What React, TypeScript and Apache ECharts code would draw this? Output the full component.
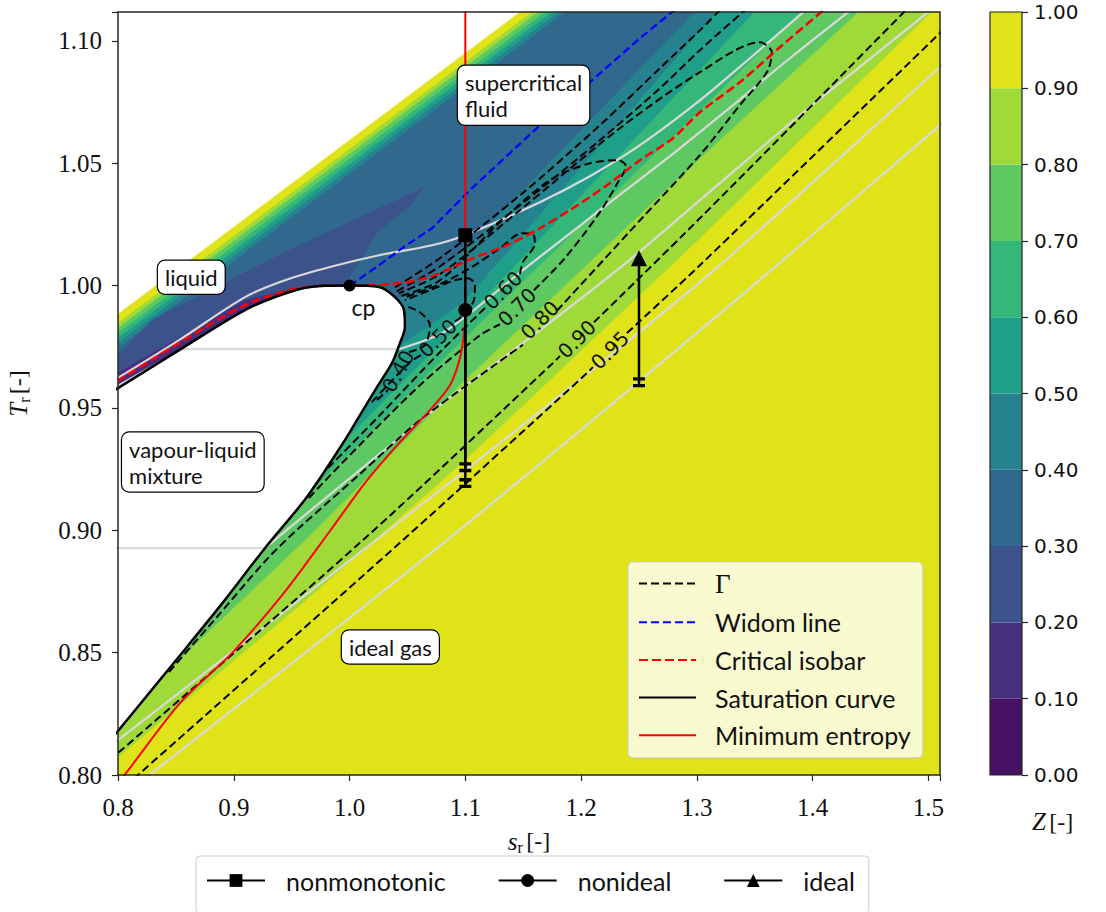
import React, { useEffect, useRef } from "react";
import * as echarts from "echarts";

// ---------------- data (reduced entropy s_r, reduced temperature T_r) ----------------
const zLevels = [0, 0.1, 0.2, 0.3, 0.4, 0.5, 0.6, 0.7, 0.8, 0.9, 1.0];
const bandColors = ["#471164", "#472f7d", "#3b528b", "#31688e", "#26828e", "#1f9e89", "#35b779", "#5ec962", "#a0da39", "#dfe318"];

// filled regions: Z >= 0.9 domain, then regions Z < level
const zDomain = [[0.78, 0.9812], [1.2, 1.1305], [1.2, 1.15], [1.6, 1.15], [1.6, 0.78], [0.78, 0.78]];
const zBelow90 = [[0.78, 0.9775], [1.2, 1.1268], [1.2, 1.15], [1.5142, 1.15], [1.5142, 1.1186], [1.5012, 1.1113], [1.3026, 1.0194], [1.0997, 0.9287], [0.9572, 0.8694], [0.8, 0.8074], [0.7845, 0.8012], [0.78, 0.8]];
const zBelow80 = [[0.78, 0.9755], [1.2, 1.1248], [1.2, 1.15], [1.4494, 1.15], [1.4494, 1.1186], [1.4382, 1.1113], [1.2681, 1.0369], [1.0997, 0.9614], [0.9658, 0.898], [0.8449, 0.8437], [0.8, 0.85], [0.78, 0.85]];
const zBelow70 = [[0.78, 0.9734], [1.2, 1.1227], [1.2, 1.15], [1.4019, 1.15], [1.4019, 1.1186], [1.389, 1.1113], [1.0997, 0.9789], [0.9442, 0.9054], [0.9, 0.9], [0.78, 0.9]];
const zBelow60 = [[0.78, 0.9714], [1.2, 1.1207], [1.2, 1.15], [1.3587, 1.15], [1.3587, 1.1186], [1.3484, 1.1113], [1.0997, 0.9867], [0.996, 0.9369], [0.95, 0.93], [0.78, 0.92]];
const zBelow50 = [[0.78, 0.9694], [1.2, 1.1186], [1.2, 1.15], [1.3259, 1.15], [1.3259, 1.1186], [1.3155, 1.1113], [1.0997, 0.994], [1.0444, 0.9757], [1.0, 0.96], [0.78, 0.92]];
const zBelow40 = [[0.78, 0.9673], [1.2, 1.1166], [1.2, 1.15], [1.3069, 1.15], [1.3069, 1.1186], [1.2966, 1.1113], [1.0997, 1.0145], [1.0418, 0.9949], [1.0, 0.97], [0.78, 0.93]];
const zBelow30 = [[0.78, 0.9645], [0.8, 0.9716], [0.83, 0.986], [0.95, 1.015], [1.0634, 1.0398], [1.0522, 1.0328], [1.0237, 1.0217], [1.009, 1.0106], [0.996, 1.0006], [0.97, 0.985], [0.78, 0.93]];
const zBelow20 = [[0.78, 0.9589], [0.8009, 0.9646], [0.8527, 0.9785], [0.9097, 0.994], [0.9477, 0.9981], [0.93, 0.97], [0.78, 0.94]];

// saturation curve (liquid branch -> critical point -> vapour branch)
const saturation = [[0.78, 0.9522], [0.8, 0.9581], [0.8527, 0.9736], [0.9097, 0.99], [0.9477, 0.9973], [0.9736, 0.9998], [1.0, 1.0], [1.0254, 0.9994], [1.0392, 0.9953], [1.047, 0.99], [1.0478, 0.983], [1.0435, 0.9765], [1.0366, 0.9683], [1.0237, 0.9585], [1.009, 0.9471], [0.9943, 0.9356], [0.9632, 0.9136], [0.9269, 0.8927], [0.8881, 0.869], [0.851, 0.8474], [0.8, 0.818], [0.78, 0.8065]];

// isobars (grey)
const isobar1 = [[0.8147, 0.7955], [0.825, 0.7992], [1.0841, 0.896], [1.3285, 0.992], [1.5098, 1.0655], [1.5271, 1.0725]];
const isobar2 = [[0.7801, 0.8069], [0.8, 0.8143], [1.0781, 0.9164], [1.3026, 1.0014], [1.5098, 1.0892], [1.5271, 1.0962]];
const isobar3Flat = [[0.7801, 0.8927], [0.9269, 0.8927]];
const isobar3Vap = [[0.9269, 0.8927], [0.9572, 0.9046], [1.0003, 0.9213], [1.0781, 0.9511], [1.1644, 0.9818], [1.2396, 1.0096], [1.3026, 1.0349], [1.3889, 1.0696], [1.4986, 1.1113], [1.5098, 1.1158]];
const isobar4Liq = [[0.7801, 0.954], [0.8009, 0.9593], [0.8553, 0.974]];
const isobar4Flat = [[0.8553, 0.974], [1.0427, 0.974]];
const isobar4Vap = [[1.0427, 0.974], [1.0781, 0.9801], [1.0997, 0.9871], [1.1497, 1.0063], [1.2162, 1.0308], [1.2853, 1.0561], [1.3311, 1.0737], [1.3803, 1.0929], [1.4295, 1.1113], [1.4408, 1.1154]];
const isobar5 = [[0.7801, 0.9573], [0.8009, 0.9626], [0.8527, 0.9777], [0.9097, 0.9953], [0.9442, 1.0022], [0.9822, 1.0075], [1.0254, 1.0124], [1.0712, 1.0165], [1.0997, 1.0206], [1.1644, 1.0341], [1.2076, 1.0447], [1.2508, 1.0574], [1.3026, 1.0757], [1.3458, 1.0929], [1.3889, 1.1105], [1.3976, 1.1145]];

const criticalIsobar = [[0.7801, 0.9556], [0.8009, 0.9614], [0.8527, 0.9765], [0.9097, 0.992], [0.9477, 0.9981], [0.9744, 0.9998], [1.0, 1.0], [1.0349, 1.0006], [1.0686, 1.0034], [1.1066, 1.0112], [1.1359, 1.0165], [1.1644, 1.0234], [1.1929, 1.0316], [1.2223, 1.041], [1.2508, 1.0512], [1.2793, 1.0602], [1.3026, 1.0708], [1.3371, 1.0831], [1.3717, 1.0974], [1.4062, 1.1113], [1.4149, 1.1149]];
const widomLine = [[1.0, 1.0], [1.0219, 1.0071], [1.0478, 1.0161], [1.0712, 1.0234], [1.104, 1.039], [1.1644, 1.0655], [1.2076, 1.0831], [1.2508, 1.1011], [1.2784, 1.1117], [1.2853, 1.1146]];
const minEntropy = [[1.1, 1.13], [1.1, 0.99], [1.0992, 0.9818], [1.0953, 0.9703], [1.0867, 0.9593], [1.0694, 0.9491], [1.0435, 0.936], [1.0133, 0.9193], [0.9831, 0.8997], [0.9425, 0.8739], [0.8984, 0.8498], [0.8535, 0.8294], [0.8043, 0.7992], [0.79, 0.7918]];

// fundamental derivative contours (Gamma), split where the inline labels sit
const gamma95LowA = [[0.806, 0.7951], [0.8173, 0.8], [1.0461, 0.896], [1.205, 0.9642], [1.2102, 0.9667]];
const gamma95LowB = [[1.2396, 0.9806], [1.3026, 1.0083], [1.5098, 1.1031], [1.5185, 1.1068]];
const gamma95Up = [[1.0392, 0.9993], [1.0781, 1.0112], [1.1472, 1.0369], [1.2162, 1.0655], [1.268, 1.0888], [1.3026, 1.1043], [1.3199, 1.1125]];
const gamma90LowA = [[0.7845, 0.8029], [0.8, 0.809], [1.0116, 0.896], [1.1756, 0.9683], [1.1817, 0.9712]];
const gamma90LowB = [[1.2111, 0.985], [1.3026, 1.0275], [1.4779, 1.1113], [1.4839, 1.1145]];
const gamma90Up = [[1.0409, 0.9977], [1.0781, 1.0079], [1.1472, 1.0328], [1.2162, 1.0594], [1.268, 1.0806], [1.3026, 1.0962], [1.3415, 1.1125]];
const gamma80A = [[0.844, 0.8421], [0.8846, 0.8641], [0.9295, 0.8886], [0.9572, 0.9013], [1.009, 0.923], [1.0608, 0.945], [1.1497, 0.9758]];
const gamma80B = [[1.1791, 0.9897], [1.2525, 1.0275], [1.3026, 1.0533], [1.3371, 1.0737], [1.3604, 1.0872], [1.3648, 1.0953], [1.3544, 1.0994], [1.3026, 1.0872], [1.2335, 1.0643], [1.1472, 1.0308], [1.0781, 1.0047], [1.0427, 0.9969]];
const gamma70A = [[0.9649, 0.9132], [0.9917, 0.9266], [1.0608, 0.9593], [1.1126, 0.9797], [1.1299, 0.9842]];
const gamma70B = [[1.1592, 0.9981], [1.186, 1.0112], [1.2162, 1.03], [1.2318, 1.0422], [1.2387, 1.0488], [1.2318, 1.0512], [1.2076, 1.05], [1.1731, 1.0431], [1.1299, 1.0259], [1.0781, 1.0022], [1.0444, 0.9957]];
const gamma60A = [[0.9813, 0.9254], [1.0263, 0.9471], [1.0781, 0.9728], [1.1178, 0.9912]];
const gamma60B = [[1.1472, 1.0047], [1.1497, 1.0096], [1.1601, 1.0173], [1.1584, 1.021], [1.1489, 1.0214], [1.1299, 1.0153], [1.104, 1.0071], [1.0781, 1.0006], [1.0461, 0.9949]];
const gamma50A = [[1.0193, 0.9524], [1.0522, 0.9687], [1.0617, 0.9716]];
const gamma50B = [[1.091, 0.9855], [1.0953, 0.9867], [1.1074, 0.994], [1.1083, 1.0002], [1.1022, 1.003], [1.091, 1.0022], [1.0694, 0.9981], [1.0478, 0.994]];
const gamma40A = [[1.0237, 0.9532], [1.0332, 0.9573]];
const gamma40B = [[1.0513, 0.9728], [1.0651, 0.9757], [1.0694, 0.9838], [1.0608, 0.9891], [1.0487, 0.9916]];
const gammaLabelText = ["0.40", "0.50", "0.60", "0.70", "0.80", "0.90", "0.95"];
const gammaLabelPos = [[1.042, 0.965], [1.0763, 0.9785], [1.1325, 0.9981], [1.1446, 0.9912], [1.1644, 0.9859], [1.1964, 0.9781], [1.2249, 0.9736]];
const gammaLabelAngle = [61, 45, 45, 45, 45, 45, 45];

// expansions
const nonmonotonicPath = [[1.1, 1.0206], [1.1, 0.9193]];
const nonidealPath = [[1.1, 0.99], [1.1, 0.9258]];
const idealPath = [[1.25, 1.0112], [1.25, 0.9605]];
const criticalPoint = [1.0, 1.0];

// region annotations
const regionNames = ["liquid", "supercritical\nfluid", "vapour-liquid\nmixture", "ideal gas"];
const regionAnchors = [[0.8345, 1.0034], [1.0936, 1.0778], [0.8035, 0.9279], [0.9934, 0.8523]];

const xTickStep = 0.1;
const yTickStep = 0.05;

// ---------------- chart ----------------
const serif = "Liberation Serif";
const sans = "Lato";
const cbFont = "DejaVu Sans";
const frame = "#262626";

function isTick(v: number, step: number) {
  return Math.abs(v / step - Math.round(v / step)) < 1e-6;
}

function polygon(name: string, pts: number[][], color: string) {
  return {
    type: "custom",
    name,
    silent: true,
    clip: true,
    z: 1,
    data: pts,
    renderItem: (params: any, api: any) => {
      if (params.dataIndex !== 0) return null;
      return {
        type: "polygon",
        shape: { points: pts.map((p) => api.coord(p)) },
        style: { fill: color, stroke: color, lineWidth: 0.6 },
      };
    },
  };
}

function line(name: string, pts: number[][], color: string, width: number, type: any, z: number, smooth: number = 0) {
  return {
    type: "line",
    name,
    data: pts,
    symbol: "none",
    showSymbol: false,
    smooth,
    clip: true,
    silent: true,
    z,
    lineStyle: { color, width, type },
    itemStyle: { color },
  };
}

const capSymbol = "path://M0,0 L4,0 L4,3 L6,3 L6,0 L10,0 L10,3 L6,3 L6,6 L10,6 L10,9 L0,9 L0,6 L4,6 L4,3 L0,3 Z";

function process(name: string, pts: number[][], symbol: string, size: number) {
  return {
    type: "line",
    name,
    data: [
      { value: pts[0], symbol, symbolSize: size },
      { value: pts[1], symbol: capSymbol, symbolSize: [12, 10] },
    ],
    symbol,
    symbolSize: size,
    showSymbol: true,
    clip: false,
    silent: true,
    z: 6,
    lineStyle: { color: "#000", width: 2.5 },
    itemStyle: { color: "#000" },
  };
}

function buildOption() {
  const bands = [
    polygon("b9", zDomain, bandColors[9]),
    polygon("b8", zBelow90, bandColors[8]),
    polygon("b7", zBelow80, bandColors[7]),
    polygon("b6", zBelow70, bandColors[6]),
    polygon("b5", zBelow60, bandColors[5]),
    polygon("b4", zBelow50, bandColors[4]),
    polygon("b3", zBelow40, bandColors[3]),
    polygon("b2", zBelow30, bandColors[2]),
    polygon("b1", zBelow20, bandColors[1]),
    polygon("dome", saturation, "#ffffff"),
  ];
  const grey = "#d9d9d9";
  const isobars = [isobar1, isobar2, isobar3Vap, isobar4Liq, isobar4Vap, isobar5].map((p, i) => line("isobar" + i, p, grey, 2.2, "solid", 2, 0.3));
  const flats = [isobar3Flat, isobar4Flat].map((p, i) => line("flat" + i, p, grey, 2.2, "solid", 2, 0));
  const dash: any = [8, 4];
  const gammas = [
    gamma95LowA, gamma95LowB, gamma95Up, gamma90LowA, gamma90LowB, gamma90Up,
    gamma80A, gamma80B, gamma70A, gamma70B, gamma60A, gamma60B, gamma50A, gamma50B, gamma40A, gamma40B,
  ].map((p) => line("Γ", p, "#000", 2, dash, 3, 0.3));
  const colorbar = bandColors.map((c, i) => ({
    type: "bar",
    name: "cb" + i,
    xAxisIndex: 1,
    yAxisIndex: 1,
    stack: "cb",
    barWidth: "100%",
    silent: true,
    data: [zLevels[i + 1] - zLevels[i]],
    itemStyle: { color: c },
  }));

  const axisRich = {
    i: { fontFamily: serif, fontStyle: "italic", fontSize: 25, color: "#111" },
    s: { fontFamily: serif, fontSize: 16, color: "#111", verticalAlign: "bottom", padding: [12, 0, 0, 0] },
    n: { fontFamily: serif, fontSize: 24, color: "#111" },
  };

  return {
    animation: false,
    backgroundColor: "#ffffff",
    grid: [
      { left: 118, top: 12, width: 822, height: 763, show: true, borderColor: frame, borderWidth: 1.5, backgroundColor: "transparent", z: 10, outerBoundsMode: "none", containLabel: false },
      { left: 990, top: 12, width: 32, height: 763, show: true, borderColor: frame, borderWidth: 1.2, backgroundColor: "transparent", z: 10, outerBoundsMode: "none", containLabel: false },
    ],
    xAxis: [
      {
        type: "value",
        gridIndex: 0,
        min: 0.8,
        max: 1.51,
        interval: xTickStep,
        axisLine: { show: false },
        axisTick: { show: true, length: 6, lineStyle: { color: frame, width: 1.2 } },
        axisLabel: { formatter: (v: number) => (isTick(v, xTickStep) ? v.toFixed(1) : ""), fontFamily: serif, fontSize: 25, color: "#111", margin: 20 },
        splitLine: { show: false },
        name: "{i|s}{s|r} {n|[-]}",
        nameLocation: "middle",
        nameGap: 52,
        nameTextStyle: { rich: axisRich },
      },
      { type: "category", gridIndex: 1, data: ["Z"], show: false },
    ],
    yAxis: [
      {
        type: "value",
        gridIndex: 0,
        min: 0.8,
        max: 1.1118,
        interval: yTickStep,
        axisLine: { show: false },
        axisTick: { show: true, length: 6, lineStyle: { color: frame, width: 1.2 } },
        axisLabel: { formatter: (v: number) => (isTick(v, yTickStep) ? v.toFixed(2) : ""), fontFamily: serif, fontSize: 25, color: "#111", margin: 16 },
        splitLine: { show: false },
        name: "{i|T}{s|r} {n|[-]}",
        nameLocation: "middle",
        nameRotate: 90,
        nameGap: 86,
        nameTextStyle: { rich: axisRich },
      },
      {
        type: "value",
        gridIndex: 1,
        position: "right",
        min: 0,
        max: 1,
        interval: 0.1,
        axisLine: { show: false },
        axisTick: { show: true, length: 6, lineStyle: { color: frame, width: 1.2 } },
        axisLabel: { formatter: (v: number) => v.toFixed(2), fontFamily: cbFont, fontSize: 20, color: "#111", margin: 12 },
        splitLine: { show: false },
        name: "{i|Z} {n|[-]}",
        nameLocation: "start",
        nameGap: 34,
        nameTextStyle: {
          align: "left",
          padding: [0, 0, 0, 10],
          rich: {
            i: { fontFamily: serif, fontStyle: "italic", fontSize: 25, color: "#111" },
            n: { fontFamily: serif, fontSize: 24, color: "#111" },
          },
        },
      },
    ],
    legend: [
      {
        data: ["Γ", "Widom line", "Critical isobar", "Saturation curve", "Minimum entropy"],
        orient: "vertical",
        left: 628,
        top: 562,
        itemWidth: 57,
        itemHeight: 14,
        itemGap: 12.7,
        padding: [8, 12, 10, 10],
        backgroundColor: "rgba(255,255,255,0.8)",
        borderColor: "#cccccc",
        borderWidth: 1,
        borderRadius: 5,
        z: 20,
        selectedMode: false,
        itemStyle: { opacity: 0 },
        formatter: (n: string) => (n === "Γ" ? "{g|Γ}" : n),
        textStyle: {
          fontFamily: sans,
          fontSize: 25,
          color: "#111",
          padding: [0, 0, 0, 14],
          rich: { g: { fontFamily: serif, fontSize: 27, color: "#111" } },
        },
      },
      {
        data: ["nonmonotonic", "nonideal", "ideal"],
        orient: "horizontal",
        left: 196,
        top: 856,
        itemWidth: 58,
        itemHeight: 16,
        itemGap: 52,
        padding: [12, 14, 20, 10],
        backgroundColor: "#ffffff",
        borderColor: "#cccccc",
        borderWidth: 1,
        borderRadius: 4,
        selectedMode: false,
        textStyle: { fontFamily: sans, fontSize: 25, color: "#111", padding: [0, 0, 0, 16] },
      },
    ],
    series: [
      ...bands,
      ...isobars,
      ...flats,
      ...gammas,
      line("Widom line", widomLine, "#0000ff", 2.2, dash, 4),
      line("Critical isobar", criticalIsobar, "#ff0000", 2.5, [9, 4], 4, 0.3),
      line("Saturation curve", saturation, "#000", 2.5, "solid", 4, 0.3),
      line("Minimum entropy", minEntropy, "#ff0000", 2, "solid", 4, 0.3),
      process("nonmonotonic", nonmonotonicPath, "rect", 14),
      process("nonideal", nonidealPath, "circle", 14),
      process("ideal", idealPath, "triangle", 16),
      {
        type: "scatter",
        name: "cp",
        data: [criticalPoint],
        symbol: "circle",
        symbolSize: 12,
        itemStyle: { color: "#000", opacity: 1 },
        z: 7,
        silent: true,
        label: { show: true, formatter: "cp", position: "bottom", distance: 4, offset: [14, 0], fontFamily: sans, fontSize: 23, color: "#111" },
      },
      {
        type: "scatter",
        name: "gammaLabels",
        data: gammaLabelPos.map((p, i) => ({ value: p, name: gammaLabelText[i], label: { rotate: gammaLabelAngle[i] } })),
        symbolSize: 0,
        z: 7,
        silent: true,
        itemStyle: { opacity: 1 },
        label: { show: true, formatter: "{b}", position: "inside", rotate: 45, fontFamily: cbFont, fontSize: 20, color: "#111" },
      },
      {
        type: "scatter",
        name: "regions",
        data: regionAnchors.map((p, i) => ({ value: p, name: regionNames[i] })),
        symbolSize: 0,
        z: 8,
        silent: true,
        itemStyle: { opacity: 1 },
        label: {
          show: true,
          formatter: "{b}",
          position: "right",
          distance: 0,
          align: "left",
          verticalAlign: "middle",
          fontFamily: sans,
          fontSize: 22,
          lineHeight: 26,
          color: "#111",
          opacity: 1,
          backgroundColor: "#ffffff",
          borderColor: "#000",
          borderWidth: 1.2,
          borderRadius: 7,
          padding: [4, 7, 3, 7],
        },
      },
      ...colorbar,
    ],
  };
}

export default function App() {
  const ref = useRef<HTMLDivElement>(null);
  useEffect(() => {
    document.body.style.margin = "0";
    const chart = echarts.init(ref.current!, null, { renderer: "svg" });
    chart.setOption(buildOption() as any);
    return () => chart.dispose();
  }, []);
  return <div ref={ref} style={{ width: 1106, height: 912 }} />;
}
